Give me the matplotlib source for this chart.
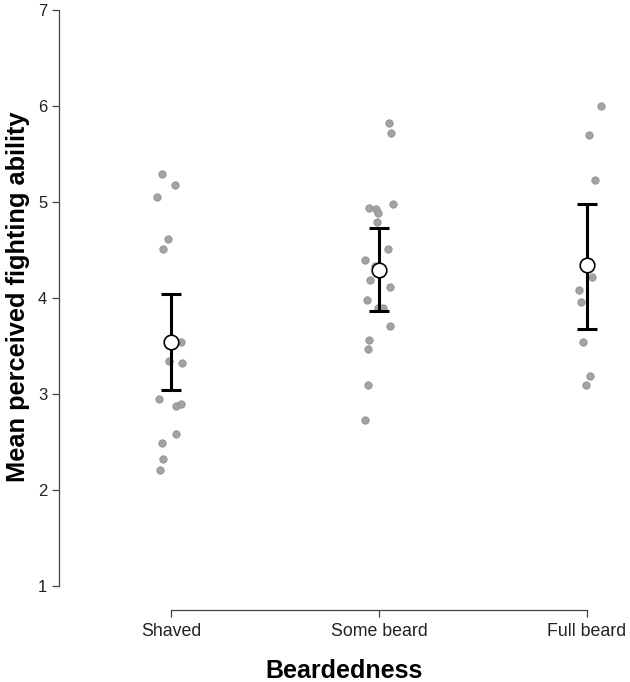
import matplotlib
matplotlib.use("Agg")
import matplotlib.pyplot as plt
import numpy as np

plt.rcParams['font.family'] = ['Liberation Sans', 'DejaVu Sans']

categories = ["Shaved", "Some beard", "Full beard"]

shaved_vals = [5.29, 5.18, 5.05, 4.615, 4.51, 3.545, 3.34, 3.32, 2.95, 2.87, 2.90, 2.58, 2.49, 2.32, 2.21]
shaved_jit = [-9, 4, -14, -3, -8, 10, -2, 11, -12, 5, 10, 5, -9, -8, -11]

some_vals = [5.82, 5.72, 4.98, 4.94, 4.93, 4.885, 4.79, 4.51, 4.40, 4.33, 4.19, 4.11, 3.98, 3.90, 3.90, 3.71, 3.56, 3.47, 3.09, 2.73]
some_jit = [10, 12, 14, -10, -3, -1, -2, 9, -14, -4, -9, 11, -12, -1, 4, 11, -10, -11, -11, -14]

full_vals = [6.0, 5.70, 5.23, 4.22, 4.08, 3.96, 3.545, 3.19, 3.09]
full_jit = [14, 2, 8, 5, -8, -6, -4, 3, -1]

means = [3.545, 4.295, 4.34]
ci_low = [3.04, 3.86, 3.68]
ci_high = [4.045, 4.73, 4.98]

yticks = [1, 2, 3, 4, 5, 6, 7]

W, H = 630, 682
fig = plt.figure(figsize=(W / 100, H / 100), dpi=100)
ax = fig.add_axes([59 / W, (H - 610) / H, (W - 59) / W, 610 / H])

groups = [(shaved_vals, shaved_jit), (some_vals, some_jit), (full_vals, full_jit)]
for i, (vals, jit) in enumerate(groups):
    xs = i + np.array(jit) / 208.0
    ax.scatter(xs, vals, s=28, color='#a3a3a3', edgecolors='#8f8f8f', linewidths=0.6, zorder=2)

x = np.arange(len(categories))
m = np.array(means)
err = np.vstack([m - np.array(ci_low), np.array(ci_high) - m])
ax.errorbar(x, m, yerr=err, fmt='none', ecolor='black', elinewidth=2.2, capsize=7, capthick=2.2, zorder=3)
ax.scatter(x, m, s=110, facecolor='white', edgecolors='black', linewidths=1.2, zorder=4)

ax.set_xlim(-0.538, (W - 171) / 208.0)
ax.set_ylim(1 - 24 / 96, 7 + 10 / 96)

for s in ['top', 'right']:
    ax.spines[s].set_visible(False)
ax.spines['left'].set_bounds(1, 7)
ax.spines['bottom'].set_bounds(0, 2)
for s in ['left', 'bottom']:
    ax.spines[s].set_color('#444444')
    ax.spines[s].set_linewidth(0.9)

ax.set_yticks(yticks)
ax.set_yticklabels([str(t) for t in yticks])
ax.set_xticks(x)
ax.set_xticklabels(categories)
ax.tick_params(axis='both', direction='out', length=5, width=0.9, color='#444444', labelcolor='#222222')
ax.tick_params(axis='y', labelsize=12)
ax.tick_params(axis='x', labelsize=12.8, pad=4)

ax.set_ylabel("Mean perceived fighting ability", fontsize=18.3, fontweight='bold')
ax.yaxis.set_label_coords(-0.051, 0.513)
ax.set_xlabel("Beardedness", fontsize=18, fontweight='bold', labelpad=14)

fig.savefig("out.png", dpi=100)
